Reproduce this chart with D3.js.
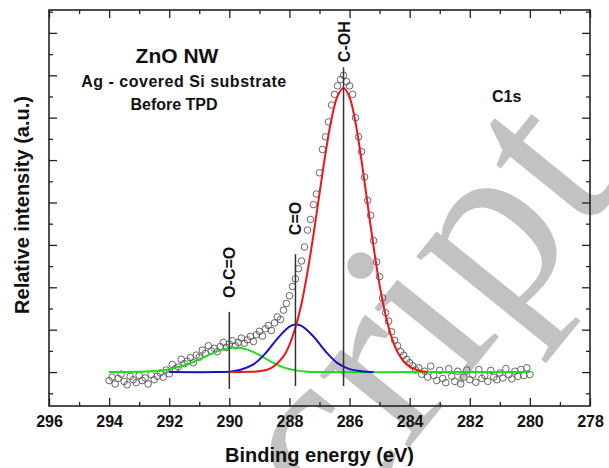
<!DOCTYPE html>
<html>
<head>
<meta charset="utf-8">
<script src="https://cdn.jsdelivr.net/npm/d3@7"></script>
<style>
  body { margin: 0; background: #fff; }
  svg text { font-family: "Liberation Sans", Arial, sans-serif; font-weight: bold; fill: #111; }
</style>
</head>
<body>
<svg id="chart" width="609" height="468"></svg>
<script>
// measured spectrum, 294.0 -> 280.0 eV in 0.1 eV steps
const dataStart = 294.0;
const dataStep = -0.1;
const dataValues = [
  -0.20, -0.12, -0.28, -0.15, -0.05, -0.22, -0.30, -0.10, -0.18, -0.25,
  -0.08, -0.20, -0.14, -0.28, -0.06, -0.18, -0.10, -0.02, -0.12, 0.05,
  -0.04, 0.18, 0.08, 0.12, 0.30, 0.20, 0.26, 0.34, 0.22, 0.40,
  0.35, 0.52, 0.44, 0.62, 0.50, 0.56, 0.48, 0.60, 0.70, 0.58,
  0.66, 0.74, 0.62, 0.70, 0.80, 0.68, 0.76, 0.84, 0.72, 0.88,
  0.96, 0.85, 1.02, 1.10, 0.98, 1.16, 1.30, 1.24, 1.46, 1.62,
  1.80, 2.02, 2.20, 2.44, 2.62, 2.95, 3.35, 3.60, 3.95, 4.20,
  4.70, 5.25, 5.55, 5.90, 6.30, 6.55, 6.75, 6.90, 7.00, 6.85,
  6.75, 6.55, 6.00, 5.55, 5.20, 4.60, 4.05, 3.70, 3.10, 2.60,
  2.25, 1.75, 1.40, 1.20, 0.95, 0.75, 0.62, 0.48, 0.40, 0.30,
  0.22, 0.15, 0.05, 0.10, -0.05, 0.02, -0.12, 0.14, -0.08, -0.20,
  0.04, -0.15, -0.25, 0.08, -0.10, -0.22, 0.02, -0.28, -0.12, 0.05,
  -0.18, -0.06, -0.24, 0.06, -0.15, -0.08, -0.22, 0.04, -0.12, -0.18,
  -0.02, -0.14, 0.08, -0.06, -0.16, 0.02, -0.10, 0.06, -0.08, 0.10,
  -0.06
];

// fitted components: [energy, intensity]
const fitGreen = [
  [294.0, 0], [293.0, 0.01], [292.6, 0.02], [292.2, 0.04], [291.8, 0.10],
  [291.4, 0.18], [291.0, 0.30], [290.6, 0.43], [290.2, 0.53], [289.8, 0.58],
  [289.4, 0.53], [289.0, 0.40], [288.6, 0.24], [288.2, 0.11], [287.8, 0.04],
  [287.4, 0.01], [287.0, 0], [284.0, 0], [280.0, 0]
];
const fitBlue = [
  [292.0, 0], [290.4, 0], [290.0, 0.01], [289.6, 0.06], [289.2, 0.18],
  [288.8, 0.44], [288.4, 0.79], [288.0, 1.07], [287.8, 1.12], [287.6, 1.09],
  [287.2, 0.84], [286.8, 0.49], [286.4, 0.21], [286.0, 0.07], [285.6, 0.02],
  [285.2, 0]
];
const fitRed = [
  [290.0, 0], [289.4, 0.005], [289.0, 0.02], [288.6, 0.10], [288.2, 0.37],
  [288.0, 0.64], [287.8, 1.05], [287.6, 1.61], [287.4, 2.36], [287.2, 3.24],
  [287.0, 4.21], [286.8, 5.16], [286.6, 5.97], [286.4, 6.51], [286.2, 6.70],
  [286.0, 6.48], [285.8, 5.88], [285.6, 4.98], [285.4, 3.96], [285.2, 2.95],
  [285.0, 2.05], [284.8, 1.34], [284.6, 0.82], [284.4, 0.47], [284.2, 0.25],
  [284.0, 0.13], [283.8, 0.06], [283.6, 0.02], [283.4, 0]
];

// peak markers
const markerNames = ["O-C=O", "C=O", "C-OH"];
const markerEnergy = [290.0, 287.8, 286.2];
const markerTop = [1.42, 2.78, 7.19];
const markerBottom = [-0.40, -0.33, -0.33];
const markerLabelAt = [1.75, 3.23, 7.31];

const xTicks = [296, 294, 292, 290, 288, 286, 284, 282, 280, 278];
const xMinor = [295, 293, 291, 289, 287, 285, 283, 281, 279];
const yTicks = [0, 1, 2, 3, 4, 5, 6, 7, 8];
const yMinor = [-0.5, 0.5, 1.5, 2.5, 3.5, 4.5, 5.5, 6.5, 7.5, 8.5];

const svg = d3.select("#chart");
const margin = { top: 10, right: 19, bottom: 62, left: 49 };
const width = 609 - margin.left - margin.right;
const height = 468 - margin.top - margin.bottom;

// watermark from the source page, behind the plot
svg.append("text")
  .attr("transform", "translate(336,538) rotate(-51)")
  .style("font-family", "'Liberation Serif', 'DejaVu Serif', serif")
  .style("font-weight", "normal")
  .style("font-size", "250px")
  .style("fill", "#c2c2c2")
  .text("cript");

const g = svg.append("g").attr("transform", `translate(${margin.left},${margin.top})`);

const x = d3.scaleLinear().domain([296, 278]).range([0, width]);
const y = d3.scaleLinear().domain([-0.8, 8.54]).range([height, 0]);

// axes, ticks pointing inward on all four sides
const axisStyle = sel => {
  sel.select(".domain").remove();
  sel.selectAll(".tick line").attr("stroke", "#222").attr("stroke-width", 1.3);
};
g.append("g").attr("transform", `translate(0,${height})`)
  .call(d3.axisBottom(x).tickValues(xTicks).tickSizeInner(-8).tickSizeOuter(0).tickPadding(10))
  .call(axisStyle)
  .selectAll("text").style("font-size", "16px").attr("fill", "#111");
g.append("g").attr("transform", `translate(0,${height})`)
  .call(d3.axisBottom(x).tickValues(xMinor).tickSize(-4).tickFormat(""))
  .call(axisStyle);
g.append("g")
  .call(d3.axisTop(x).tickValues(xTicks).tickSize(-8).tickFormat(""))
  .call(axisStyle);
g.append("g")
  .call(d3.axisTop(x).tickValues(xMinor).tickSize(-4).tickFormat(""))
  .call(axisStyle);
g.append("g")
  .call(d3.axisLeft(y).tickValues(yTicks).tickSize(-8).tickFormat(""))
  .call(axisStyle);
g.append("g")
  .call(d3.axisLeft(y).tickValues(yMinor).tickSize(-4).tickFormat(""))
  .call(axisStyle);
g.append("g").attr("transform", `translate(${width},0)`)
  .call(d3.axisRight(y).tickValues(yTicks).tickSize(-8).tickFormat(""))
  .call(axisStyle);
g.append("g").attr("transform", `translate(${width},0)`)
  .call(d3.axisRight(y).tickValues(yMinor).tickSize(-4).tickFormat(""))
  .call(axisStyle);

g.append("rect")
  .attr("width", width).attr("height", height)
  .attr("fill", "none").attr("stroke", "#222").attr("stroke-width", 1.6);

// measured points
const points = dataValues.map((v, i) => ({ e: dataStart + i * dataStep, v: v }));
g.selectAll("circle.pt")
  .data(points)
  .enter().append("circle")
  .attr("class", "pt")
  .attr("cx", d => x(d.e))
  .attr("cy", d => y(d.v))
  .attr("r", 3.3)
  .attr("fill", "none")
  .attr("stroke", "#555")
  .attr("stroke-width", 0.9);

// fitted curves
const line = d3.line()
  .x(d => x(d[0]))
  .y(d => y(d[1]))
  .curve(d3.curveCatmullRom);

[[fitGreen, "#1fdc1f"], [fitBlue, "#1414c8"], [fitRed, "#ee1515"]].forEach(([pts, color]) => {
  g.append("path")
    .datum(pts)
    .attr("fill", "none")
    .attr("stroke", color)
    .attr("stroke-width", 2)
    .attr("d", line);
});

// peak marker lines and labels
markerNames.forEach((name, i) => {
  g.append("line")
    .attr("x1", x(markerEnergy[i])).attr("x2", x(markerEnergy[i]))
    .attr("y1", y(markerTop[i])).attr("y2", y(markerBottom[i]))
    .attr("stroke", "#333").attr("stroke-width", 1.5);
  const lx = x(markerEnergy[i]) + 6, ly = y(markerLabelAt[i]);
  g.append("text")
    .attr("transform", `translate(${lx},${ly}) rotate(-90)`)
    .style("font-size", "16px")
    .text(name);
});

// annotations
g.append("text").attr("x", 128).attr("y", 53).attr("text-anchor", "middle")
  .style("font-size", "21px").text("ZnO NW");
g.append("text").attr("x", 135).attr("y", 77).attr("text-anchor", "middle")
  .style("font-size", "16px").style("letter-spacing", "0.5px").text("Ag - covered Si substrate");
g.append("text").attr("x", 125).attr("y", 100).attr("text-anchor", "middle")
  .style("font-size", "16px").text("Before TPD");
g.append("text").attr("x", 443).attr("y", 92)
  .style("font-size", "16px").text("C1s");

// axis titles
svg.append("text")
  .attr("x", margin.left + width / 2).attr("y", 462)
  .attr("text-anchor", "middle")
  .style("font-size", "20px")
  .text("Binding energy (eV)");
svg.append("text")
  .attr("transform", `translate(29,${margin.top + height / 2 - 3}) rotate(-90)`)
  .attr("text-anchor", "middle")
  .style("font-size", "20px")
  .text("Relative intensity (a.u.)");
</script>
</body>
</html>
